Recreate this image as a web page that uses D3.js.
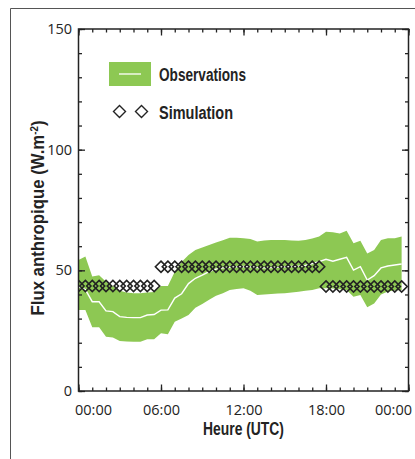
<!DOCTYPE html>
<html>
<head>
<meta charset="utf-8">
<script src="https://cdn.jsdelivr.net/npm/d3@7"></script>
<style>
  body { margin: 0; background: #fff; }
  svg { display: block; }
</style>
</head>
<body>
<script>
/* DATA (half-hour steps, hours UTC) */
var hours = [0, 0.5, 1, 1.5, 2, 2.5, 3, 3.5, 4, 4.5, 5, 5.5,
             6, 6.5, 7, 7.5, 8, 8.5, 9, 9.5, 10, 10.5, 11, 11.5,
             12, 12.5, 13, 13.5, 14, 14.5, 15, 15.5, 16, 16.5, 17, 17.5,
             18, 18.5, 19, 19.5, 20, 20.5, 21, 21.5, 22, 22.5, 23, 23.5];

// observations: upper / lower bound of the green band, and the mean (white line)
var obsUpper = [54.3, 55.7, 47.4, 48.0, 45.3, 43.5, 41.5, 40.8, 40.5, 40.5, 40.8, 41.0,
                43.5, 43.5, 49.4, 53.5, 56.4, 58.4, 59.5, 60.5, 61.5, 62.5, 63.5, 63.5,
                63.3, 63.0, 61.9, 62.4, 62.6, 62.6, 62.6, 62.4, 62.3, 62.6, 63.2, 64.0,
                66.0, 65.8, 65.3, 66.4, 61.2, 62.3, 57.0, 58.4, 62.6, 63.3, 63.3, 64.0];
var obsLower = [33.6, 33.6, 26.4, 26.4, 22.5, 22.2, 20.7, 20.5, 20.4, 20.4, 21.4, 21.4,
                23.9, 23.5, 28.7, 30.0, 31.5, 34.5, 36.0, 37.8, 39.5, 40.5, 41.9, 42.3,
                42.6, 41.5, 39.8, 40.0, 40.2, 40.4, 40.5, 40.8, 41.1, 41.5, 41.9, 42.6,
                42.6, 42.5, 42.2, 41.9, 39.1, 39.8, 34.7, 36.3, 40.0, 41.2, 41.6, 41.9];
var obsMean  = [43.2, 42.0, 37.0, 37.0, 33.2, 32.9, 30.8, 30.5, 30.4, 30.4, 31.5, 31.7,
                33.5, 33.6, 38.5, 40.3, 44.5, 46.7, 48.0, 49.5, 50.5, 51.0, 51.3, 51.5,
                51.6, 51.5, 51.2, 51.0, 51.2, 51.3, 51.5, 51.6, 51.7, 52.0, 52.8, 53.6,
                54.6, 53.8, 54.6, 55.4, 50.1, 51.5, 46.0, 47.8, 51.0, 51.8, 52.2, 52.6];

// simulation (diamonds)
var simValues = [43.5, 43.5, 43.5, 43.5, 43.5, 43.5, 43.5, 43.5, 43.5, 43.5, 43.5, 43.5,
                 51.5, 51.5, 51.5, 51.5, 51.5, 51.5, 51.5, 51.5, 51.5, 51.5, 51.5, 51.5,
                 51.5, 51.5, 51.5, 51.5, 51.5, 51.5, 51.5, 51.5, 51.5, 51.5, 51.5, 51.5,
                 43.3, 43.3, 43.3, 43.3, 43.3, 43.3, 43.3, 43.3, 43.3, 43.3, 43.3, 43.3];

var xMajor = [0, 6, 12, 18, 24];
var xLabels = ["00:00", "06:00", "12:00", "18:00", "00:00"];
var xMinor = d3.range(0, 25, 1);
var yMajor = [0, 50, 100, 150];
var yMinor = d3.range(0, 151, 10);

/* CONSTANTS */
var W = 415, H = 459;
var green = "#8dc853";
var ink = "#232323";
var tickFont = "'Open Sans', sans-serif";
var titleFont = "'Liberation Sans', Arial, sans-serif";

var x = d3.scaleLinear().domain([0, 24]).range([78.5, 408.5]);
var y = d3.scaleLinear().domain([0, 150]).range([391, 29]);

var svg = d3.select("body").append("svg")
    .attr("width", W)
    .attr("height", H);

// figure border (top + left)
svg.append("path")
    .attr("d", "M10.5," + H + "V8.5H" + W)
    .attr("fill", "none")
    .attr("stroke", "#555")
    .attr("stroke-width", 1);

svg.append("clipPath").attr("id", "plot")
  .append("rect")
    .attr("x", x(0)).attr("y", y(150))
    .attr("width", x(24) - x(0)).attr("height", y(0) - y(150));

var rows = hours.map(function(h, i) {
  return {h: h, up: obsUpper[i], lo: obsLower[i], mean: obsMean[i], sim: simValues[i]};
});

var plot = svg.append("g").attr("clip-path", "url(#plot)");

// green band
plot.append("path")
    .datum(rows)
    .attr("fill", green)
    .attr("d", d3.area()
      .x(function(d) { return x(d.h); })
      .y0(function(d) { return y(d.lo); })
      .y1(function(d) { return y(d.up); }));

// mean line
plot.append("path")
    .datum(rows)
    .attr("fill", "none")
    .attr("stroke", "#fff")
    .attr("stroke-width", 1.4)
    .attr("d", d3.line()
      .x(function(d) { return x(d.h); })
      .y(function(d) { return y(d.mean); }));

// diamonds
var r = 5.6;
function diamond(cx, cy, rr) {
  return "M" + cx + "," + (cy - rr) + "L" + (cx + rr) + "," + cy +
         "L" + cx + "," + (cy + rr) + "L" + (cx - rr) + "," + cy + "Z";
}
plot.selectAll(".sim")
    .data(rows)
  .enter().append("path")
    .attr("class", "sim")
    .attr("d", function(d) { return diamond(x(d.h), y(d.sim), r); })
    .attr("fill", "none")
    .attr("stroke", ink)
    .attr("stroke-width", 1.6);

/* AXES (ticks pointing inward on all four sides) */
function styleAxis(g) {
  g.select(".domain").remove();
  g.selectAll("line").attr("stroke", ink).attr("stroke-width", 1.3);
  g.selectAll("text").attr("fill", ink).style("font-family", tickFont).style("font-size", "14.5px");
}

// bottom
svg.append("g").attr("transform", "translate(0," + y(0) + ")")
    .call(d3.axisBottom(x).tickValues(xMinor).tickSizeInner(-3.5).tickSizeOuter(0).tickFormat(""))
    .call(styleAxis);
var bottom = svg.append("g").attr("transform", "translate(0," + y(0) + ")")
    .call(d3.axisBottom(x).tickValues(xMajor).tickSizeInner(-6.5).tickSizeOuter(0).tickPadding(14)
      .tickFormat(function(d, i) { return xLabels[i]; }))
    .call(styleAxis);
bottom.selectAll("text")
    .attr("dx", function(d, i) { return i === 0 ? 14.5 : (i === xMajor.length - 1 ? -15.5 : 0); });

// top
svg.append("g").attr("transform", "translate(0," + y(150) + ")")
    .call(d3.axisTop(x).tickValues(xMinor).tickSizeInner(-3.5).tickSizeOuter(0).tickFormat(""))
    .call(styleAxis);
svg.append("g").attr("transform", "translate(0," + y(150) + ")")
    .call(d3.axisTop(x).tickValues(xMajor).tickSizeInner(-6.5).tickSizeOuter(0).tickFormat(""))
    .call(styleAxis);

// left
svg.append("g").attr("transform", "translate(" + x(0) + ",0)")
    .call(d3.axisLeft(y).tickValues(yMinor).tickSizeInner(-3.5).tickSizeOuter(0).tickFormat(""))
    .call(styleAxis);
svg.append("g").attr("transform", "translate(" + x(0) + ",0)")
    .call(d3.axisLeft(y).tickValues(yMajor).tickSizeInner(-6.5).tickSizeOuter(0).tickPadding(6.5)
      .tickFormat(d3.format("d")))
    .call(styleAxis);

// right
svg.append("g").attr("transform", "translate(" + x(24) + ",0)")
    .call(d3.axisRight(y).tickValues(yMinor).tickSizeInner(-3.5).tickSizeOuter(0).tickFormat(""))
    .call(styleAxis);
svg.append("g").attr("transform", "translate(" + x(24) + ",0)")
    .call(d3.axisRight(y).tickValues(yMajor).tickSizeInner(-6.5).tickSizeOuter(0).tickFormat(""))
    .call(styleAxis);

// frame
svg.append("rect")
    .attr("x", x(0)).attr("y", y(150))
    .attr("width", x(24) - x(0)).attr("height", y(0) - y(150))
    .attr("fill", "none")
    .attr("stroke", ink)
    .attr("stroke-width", 1.5);

/* TITLES (condensed by squeezing the bold face to the measured widths) */
svg.append("text")
    .attr("x", (x(0) + x(24)) / 2)
    .attr("y", 434.5)
    .attr("text-anchor", "middle")
    .attr("fill", ink)
    .attr("textLength", 81)
    .attr("lengthAdjust", "spacingAndGlyphs")
    .style("font-family", titleFont)
    .style("font-weight", "bold")
    .style("font-size", "17.5px")
    .text("Heure (UTC)");

var yTitle = svg.append("text")
    .attr("transform", "translate(43.5,218) rotate(-90)")
    .attr("text-anchor", "middle")
    .attr("fill", ink)
    .attr("textLength", 195)
    .attr("lengthAdjust", "spacingAndGlyphs")
    .style("font-family", titleFont)
    .style("font-weight", "bold")
    .style("font-size", "18px");
yTitle.append("tspan").text("Flux anthropique (W.m");
yTitle.append("tspan").attr("dy", -6).style("font-size", "10.5px").text("-2");
yTitle.append("tspan").attr("dy", 6).text(")");

/* LEGEND */
var legend = svg.append("g");
legend.append("rect")
    .attr("x", 109).attr("y", 62).attr("width", 42).attr("height", 24)
    .attr("fill", green);
legend.append("line")
    .attr("x1", 119).attr("x2", 141).attr("y1", 74).attr("y2", 74)
    .attr("stroke", "#fff").attr("stroke-width", 1.3);
legend.append("text")
    .attr("x", 159).attr("y", 80.5)
    .attr("fill", ink)
    .attr("textLength", 87)
    .attr("lengthAdjust", "spacingAndGlyphs")
    .style("font-family", titleFont).style("font-weight", "bold").style("font-size", "17.5px")
    .text("Observations");

[119.5, 141.5].forEach(function(cx) {
  legend.append("path")
      .attr("d", diamond(cx, 111.5, 6))
      .attr("fill", "none")
      .attr("stroke", ink)
      .attr("stroke-width", 1.4);
});
legend.append("text")
    .attr("x", 159).attr("y", 118.5)
    .attr("fill", ink)
    .attr("textLength", 74)
    .attr("lengthAdjust", "spacingAndGlyphs")
    .style("font-family", titleFont).style("font-weight", "bold").style("font-size", "17.5px")
    .text("Simulation");
</script>
</body>
</html>
